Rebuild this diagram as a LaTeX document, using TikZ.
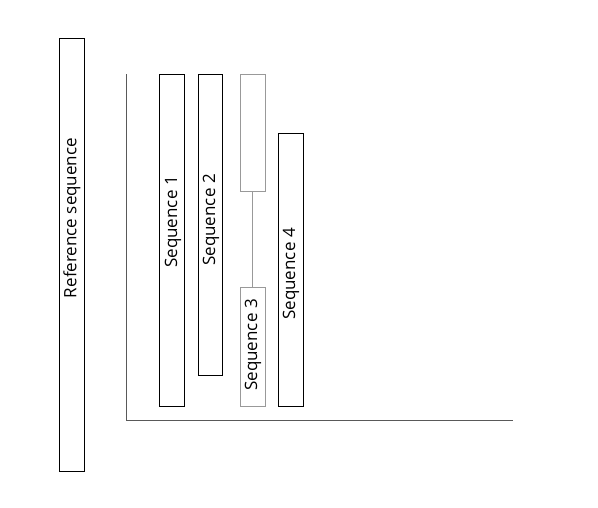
\documentclass[tikz,border=0pt]{standalone}
\usepackage{fontspec}
\setmainfont{Open Sans}
\usetikzlibrary{positioning}

\tikzset{
  seqbox/.style={draw=black, line width=1pt, rectangle, inner sep=0pt},
  gapbox/.style={draw=gray!80, line width=1pt, rectangle, inner sep=0pt},
  seqlabel/.style={rotate=90, inner sep=0pt, font=\fontsize{17}{19}\selectfont},
  axisline/.style={draw=black!65, line width=1pt}
}

\begin{document}
\begin{tikzpicture}[x=1pt, y=-1pt]
        \useasboundingbox (0,0) rectangle (598,507);
        % reference
        \node[seqbox, minimum width=25pt, minimum height=433pt] (ref) at (71.5,254.5) {};
        \node[seqlabel] (reflabel) at (72,218) {Reference sequence};
        % axes
        \coordinate (top) at (126,74);
        \coordinate (origin) at (126,420);
        \coordinate (right) at (513,420);
        \draw[axisline] (top) -- (origin) -- (right);
        % sequences
        \node[seqbox, minimum width=25pt, minimum height=332pt] (seq1) at (171.5,240) {};
        \node[seqlabel] (seq1label) at (173,222) {Sequence 1};
        \node[seqbox, minimum width=24pt, minimum height=301pt] (seq2) at (210,224.5) {};
        \node[seqlabel] (seq2label) at (211,220) {Sequence 2};
        \node[gapbox, minimum width=25pt, minimum height=117pt] (seq3a) at (252.5,132.5) {};
        \node[gapbox, minimum width=25pt, minimum height=119pt] (seq3b) at (252.5,346.5) {};
        \draw[gray!80, line width=1pt] (seq3a.south) -- (seq3b.north);
        \node[seqlabel] (seq3label) at (253,345) {Sequence 3};
        \node[seqbox, minimum width=25pt, minimum height=273pt] (seq4) at (290.5,269.5) {};
        \node[seqlabel] (seq4label) at (291,274) {Sequence 4};
\end{tikzpicture}
\end{document}
